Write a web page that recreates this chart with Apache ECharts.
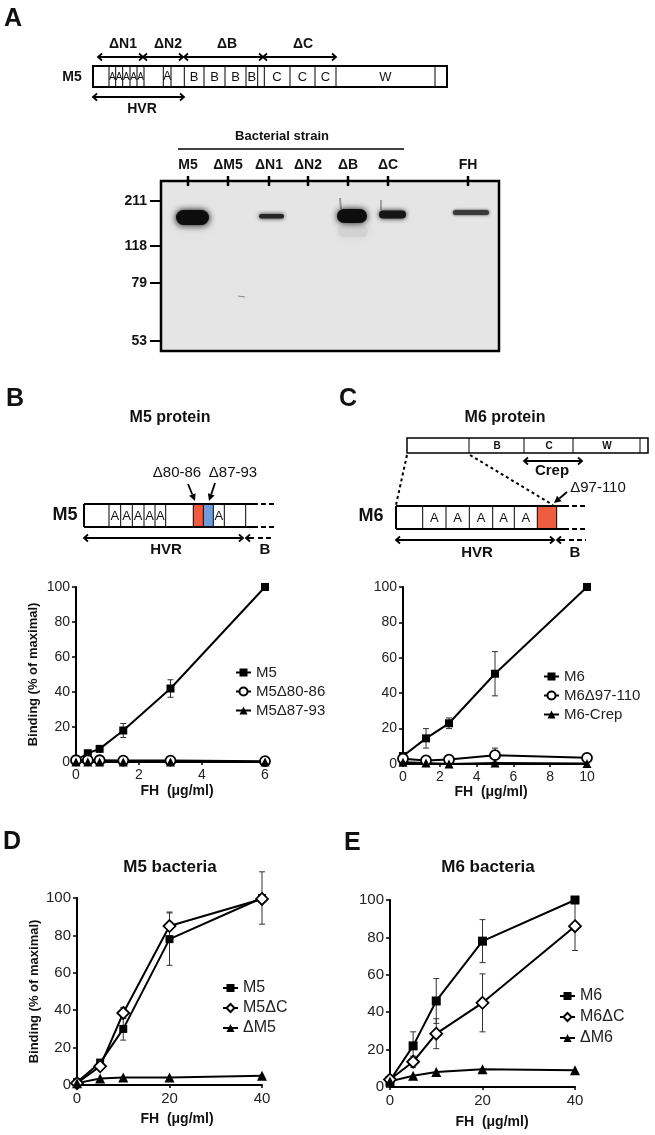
<!DOCTYPE html>
<html>
<head>
<meta charset="utf-8">
<script src="https://cdn.jsdelivr.net/npm/echarts@6/dist/echarts.min.js"></script>
<style>
  html, body { margin: 0; padding: 0; background: #fff; }
  #main { width: 655px; height: 1135px; }
</style>
</head>
<body>
<div id="main"></div>
<script>
// ---- data ----
// B: purified M5 proteins
var bDose = [0, 0.375, 0.75, 1.5, 3, 6];
var bM5 = [1, 5, 7.5, 18, 42, 100];
var bM5Err = [0, 0, 0, 4, 5, 0];
var bM5d8086 = [1, 1, 1, 0.8, 0.8, 0.5];
var bM5d8793 = [0, 0, 0, 0, 0, 0];
// C: purified M6 proteins
var cDose = [0, 1.25, 2.5, 5, 10];
var cM6 = [4.5, 14.5, 23, 51, 100];
var cM6Err = [0, 5.5, 3, 12.5, 0];
var cM6d97 = [3, 2, 2.5, 5, 3.5];
var cM6d97Err = [0, 0, 0, 4, 0];
var cM6Crep = [1, 0.5, 0, 0.5, 0.3];
// D: M5 bacteria
var dDose = [0, 5, 10, 20, 40];
var dM5 = [1.5, 12, 30, 78, 100];
var dM5Err = [0, 1.5, 6, 14, 14];
var dM5dC = [1, 10, 38.5, 85, 99.5];
var dM5dCErr = [0, 0, 3, 7.5, 0];
var dDeltaM5 = [1, 3.5, 4, 4, 5];
// E: M6 bacteria
var eDose = [0, 5, 10, 20, 40];
var eM6 = [3.5, 22, 46, 78, 100];
var eM6Err = [0, 7.5, 12, 11.5, 0];
var eM6dC = [4, 13.5, 28.5, 45, 86];
var eM6dCErr = [0, 3, 8, 15.5, 13];
var eDeltaM6 = [3, 6, 8, 9.5, 9];

// blot lanes and markers
var laneNames = ['M5', '\u0394M5', '\u0394N1', '\u0394N2', '\u0394B', '\u0394C', 'FH'];
var mwLabels = ['211', '118', '79', '53'];

var FF = '"Liberation Sans", Arial, Helvetica, sans-serif';
var G = [];

function L(x1, y1, x2, y2, w, dash, color) {
  G.push({ type: 'line', silent: true, shape: { x1: x1, y1: y1, x2: x2, y2: y2 },
    style: { stroke: color || '#000', lineWidth: w || 1, lineDash: dash || null } });
}
function R(x, y, w, h, fill, lw) {
  G.push({ type: 'rect', silent: true, shape: { x: x, y: y, width: w, height: h },
    style: { fill: fill || 'none', stroke: lw ? '#000' : null, lineWidth: lw || 0 } });
}
function T(x, y, s, size, bold, align) {
  G.push({ type: 'text', silent: true, x: x, y: y,
    style: { text: s, font: (bold ? 'bold ' : '') + size + 'px ' + FF, fill: '#111',
      align: align || 'center', verticalAlign: 'middle' } });
}
function chev(x, y, dir) {
  G.push({ type: 'polyline', silent: true,
    shape: { points: [[x + dir * 4, y - 3.5], [x, y], [x + dir * 4, y + 3.5]] },
    style: { stroke: '#000', lineWidth: 1.8, fill: null } });
}
function dArrow(x1, x2, y) {
  L(x1, y, x2, y, 2);
  chev(x1, y, 1);
  chev(x2, y, -1);
}
function ptr(x1, y1, x2, y2) {
  var dx = x2 - x1, dy = y2 - y1, len = Math.sqrt(dx * dx + dy * dy);
  var ux = dx / len, uy = dy / len, hl = 7, hw = 3.5;
  var bx = x2 - ux * hl, by = y2 - uy * hl;
  L(x1, y1, bx, by, 1.8);
  G.push({ type: 'polygon', silent: true,
    shape: { points: [[x2, y2], [bx - uy * hw, by + ux * hw], [bx + uy * hw, by - ux * hw]] },
    style: { fill: '#000' } });
}
// a soft blot band: rounded pill with blurred edges
function band(x, y, w, h, color, blur) {
  G.push({ type: 'rect', silent: true, shape: { x: x, y: y, width: w, height: h, r: h / 2 },
    style: { fill: color, shadowBlur: blur, shadowColor: color } });
}

// ---- panel A: M5 diagram ----
T(4, 19, 'A', 25, true, 'left');
T(72, 77, 'M5', 14, true);
R(93, 66, 354, 21, '#fff', 2);
[109, 115.7, 122.7, 130, 137, 144, 163.3, 171, 184.3, 204, 225, 246, 257.7, 264.3, 290, 315, 336, 435]
  .forEach(function (x) { L(x, 66, x, 87, 1); });
[112.3, 119.2, 126.3, 133.5, 140.5].forEach(function (x) { T(x, 77, 'A', 10, false); });
T(167.2, 77, 'A', 12, false);
[194, 214.5, 235.5, 251.8].forEach(function (x) { T(x, 77, 'B', 13, false); });
[277, 302.5, 325.5].forEach(function (x) { T(x, 77, 'C', 13, false); });
T(385.5, 77, 'W', 13, false);
dArrow(98, 143, 57); dArrow(143, 183, 57); dArrow(184, 263, 57); dArrow(263, 336, 57);
T(123, 44, '\u0394N1', 14, true); T(168, 44, '\u0394N2', 14, true);
T(227, 44, '\u0394B', 14, true); T(303, 44, '\u0394C', 14, true);
dArrow(93, 184, 97);
T(142, 109, 'HVR', 14, true);

// ---- panel A: blot ----
T(282, 136, 'Bacterial strain', 13, true);
L(178, 149, 404, 149, 1.5);
var laneX = [188, 228, 269, 308, 348, 388, 468];
laneNames.forEach(function (n, i) { T(laneX[i], 165, n, 14, true); });
R(161, 181, 338, 170, '#e5e5e5', 2.5);
laneX.forEach(function (x) { L(x, 176, x, 186, 2.5); });
var mwY = [201, 246, 283, 341];
mwLabels.forEach(function (m, i) { T(147, mwY[i], m, 14, true, 'right'); L(150, mwY[i], 161, mwY[i], 2); });
// halos and smears
band(174, 210, 38, 20, '#d3d3d3', 10);
band(338, 225, 30, 12, '#d2d2d2', 8);
L(340, 198, 341, 209, 2, null, '#9a9a9a');
L(381, 200, 381, 210, 2, null, '#a0a0a0');
// bands
band(176, 210, 33, 15, '#0d0d0d', 6);
band(259, 214, 25, 4.5, '#262626', 4);
band(337, 209, 30, 14, '#0d0d0d', 6);
band(379, 210.5, 27, 8, '#161616', 5);
band(453, 210, 36, 5, '#3a3a3a', 3);
L(238, 296, 245, 297, 1, null, '#888');

// ---- panel B diagram ----
T(6, 399, 'B', 25, true, 'left');
T(170, 418, 'M5 protein', 16, true);
R(193.3, 504, 10, 23, '#ee5b3e', 0);
R(203.3, 504, 10, 23, '#6e9bdc', 0);
L(84, 504, 258, 504, 2); L(84, 527, 258, 527, 2); L(84, 504, 84, 527, 2);
L(261, 504, 274, 504, 2, [5, 3]); L(261, 527, 274, 527, 2, [5, 3]);
[109, 120.7, 132.3, 144, 155, 165.7, 193.3, 203.3, 213.3, 224.3, 245.7]
  .forEach(function (x) { L(x, 504, x, 527, 1); });
[114.8, 126.5, 138.2, 149.5, 160.3, 218.8].forEach(function (x) { T(x, 516, 'A', 13, false); });
T(65, 515, 'M5', 18, true);
T(177, 473, '\u039480-86', 15, false);
T(233, 473, '\u039487-93', 15, false);
ptr(188, 484, 195, 501);
ptr(215, 483, 209, 501);
dArrow(84, 243, 538);
chev(246, 538, 1); L(246, 538, 254, 538, 2); L(258, 538, 274, 538, 2, [5, 3]);
T(166, 550, 'HVR', 15, true);
T(265, 550, 'B', 15, true);

// ---- panel C diagram ----
T(339, 399, 'C', 25, true, 'left');
T(505, 418, 'M6 protein', 16, true);
R(407, 438, 241, 15, '#fff', 1.5);
[469, 524, 573, 640].forEach(function (x) { L(x, 438, x, 453, 1); });
T(497, 446, 'B', 10, true); T(549, 446, 'C', 10, true); T(607, 446, 'W', 10, true);
dArrow(524, 582, 461);
T(552, 471, 'Crep', 15, true);
L(407, 455, 396, 505, 2, [3, 3]);
L(470, 455, 553, 505, 2, [3, 3]);
T(598, 488, '\u039497-110', 15, false);
ptr(567, 492, 554, 503);
R(537.3, 506, 19.4, 23, '#ee5b3e', 0);
L(396, 506, 569, 506, 2); L(396, 529, 569, 529, 2); L(396, 506, 396, 529, 2);
L(572, 506, 586, 506, 2, [5, 3]); L(572, 529, 586, 529, 2, [5, 3]);
[422.7, 446, 469.3, 492.7, 514.3, 537.3, 556.7].forEach(function (x) { L(x, 506, x, 529, 1); });
[434.3, 457.7, 481, 503.5, 525.8].forEach(function (x) { T(x, 518, 'A', 13, false); });
T(371, 516, 'M6', 18, true);
dArrow(396, 554, 540);
chev(557, 540, 1); L(557, 540, 565, 540, 2); L(569, 540, 586, 540, 2, [5, 3]);
T(477, 553, 'HVR', 15, true);
T(575, 553, 'B', 15, true);

// ---- panels D, E headers ----
T(3, 842, 'D', 25, true, 'left');
T(344, 843, 'E', 25, true, 'left');
T(170, 867, 'M5 bacteria', 17, true);
T(488, 867, 'M6 bacteria', 17, true);

// ---- charts ----
function xAx(gi, max, interval, fs, pad, gap) {
  return {
    type: 'value', gridIndex: gi, min: 0, max: max, interval: interval,
    name: 'FH  (\u03bcg/ml)', nameLocation: 'middle', nameGap: gap,
    nameTextStyle: { fontFamily: FF, fontWeight: 'bold', fontSize: 14, color: '#111', padding: pad },
    axisLine: { show: true, onZero: false, lineStyle: { color: '#000', width: 2 } },
    axisTick: { show: true, length: 3, lineStyle: { color: '#000', width: 1.5 } },
    axisLabel: { color: '#222', fontSize: fs, fontFamily: FF, margin: 6 },
    splitLine: { show: false }
  };
}
function yAx(gi, name, fs) {
  return {
    type: 'value', gridIndex: gi, min: 0, max: 100, interval: 20,
    name: name, nameLocation: 'middle', nameGap: 36,
    nameTextStyle: { fontFamily: FF, fontWeight: 'bold', fontSize: 13, color: '#111' },
    axisLine: { show: true, lineStyle: { color: '#000', width: 2 } },
    axisTick: { show: true, length: 4, lineStyle: { color: '#000', width: 1.5 } },
    axisLabel: { color: '#222', fontSize: fs, fontFamily: FF, margin: 6 },
    splitLine: { show: false }
  };
}
function pts(xs, ys) { return xs.map(function (x, i) { return [x, ys[i]]; }); }
function lineS(name, gi, xs, ys, symbol, size, open) {
  return {
    type: 'line', name: name, xAxisIndex: gi, yAxisIndex: gi, data: pts(xs, ys),
    symbol: symbol, symbolSize: size, showAllSymbol: true, clip: false, z: 3,
    lineStyle: { color: '#000', width: 2 },
    itemStyle: { color: open ? '#fff' : '#000', borderColor: '#000', borderWidth: open ? 1.8 : 0 },
    emphasis: { disabled: true }
  };
}
function errS(gi, xs, ys, es) {
  var d = [];
  xs.forEach(function (x, i) { if (es[i] > 0) d.push([x, ys[i] - es[i], ys[i] + es[i]]); });
  return {
    type: 'custom', xAxisIndex: gi, yAxisIndex: gi, data: d, encode: { x: 0, y: [1, 2] },
    silent: true, z: 1,
    renderItem: function (p, api) {
      var x = api.value(0);
      var a = api.coord([x, api.value(1)]), b = api.coord([x, api.value(2)]), c = 3;
      var st = { stroke: '#333', lineWidth: 1 };
      return { type: 'group', children: [
        { type: 'line', shape: { x1: a[0], y1: a[1], x2: b[0], y2: b[1] }, style: st },
        { type: 'line', shape: { x1: a[0] - c, y1: a[1], x2: a[0] + c, y2: a[1] }, style: st },
        { type: 'line', shape: { x1: b[0] - c, y1: b[1], x2: b[0] + c, y2: b[1] }, style: st }
      ] };
    }
  };
}
function leg(names, left, top, fs, gap) {
  return {
    orient: 'vertical', left: left, top: top, itemWidth: 15, itemHeight: 10, itemGap: gap,
    data: names, selectedMode: false,
    textStyle: { fontFamily: FF, fontSize: fs, color: '#222' }
  };
}

var chart = echarts.init(document.getElementById('main'), null, { renderer: 'canvas' });
chart.setOption({
  animation: false,
  backgroundColor: '#fff',
  grid: [
    { left: 76, top: 587, width: 189, height: 175, outerBoundsMode: 'none' },
    { left: 403, top: 587, width: 184, height: 177, outerBoundsMode: 'none' },
    { left: 77, top: 898, width: 185, height: 187, outerBoundsMode: 'none' },
    { left: 390, top: 900, width: 185, height: 187, outerBoundsMode: 'none' }
  ],
  xAxis: [
    xAx(0, 6, 2, 14, [0, 0, 0, 13], 22),
    xAx(1, 10, 2, 14, [0, 8, 0, 0], 21),
    xAx(2, 40, 20, 15, [0, 0, 0, 15], 27),
    xAx(3, 40, 20, 15, [0, 0, 0, 19], 28)
  ],
  yAxis: [
    yAx(0, 'Binding (% of maximal)', 14),
    yAx(1, '', 14),
    yAx(2, 'Binding (% of maximal)', 15),
    yAx(3, '', 15)
  ],
  legend: [
    leg(['M5', 'M5\u039480-86', 'M5\u039487-93'], 230, 660, 15, 4),
    leg(['M6', 'M6\u039497-110', 'M6-Crep'], 538, 664, 15, 4),
    leg(['M5', 'M5\u0394C', '\u0394M5'], 217, 975, 16, 4),
    leg(['M6', 'M6\u0394C', '\u0394M6'], 554, 983, 16, 5)
  ],
  series: [
    errS(0, bDose, bM5, bM5Err),
    lineS('M5', 0, bDose, bM5, 'rect', 8, false),
    lineS('M5\u039480-86', 0, bDose, bM5d8086, 'circle', 10, true),
    lineS('M5\u039487-93', 0, bDose, bM5d8793, 'triangle', 9, false),

    errS(1, cDose, cM6, cM6Err),
    errS(1, cDose, cM6d97, cM6d97Err),
    lineS('M6', 1, cDose, cM6, 'rect', 8, false),
    lineS('M6\u039497-110', 1, cDose, cM6d97, 'circle', 10, true),
    lineS('M6-Crep', 1, cDose, cM6Crep, 'triangle', 9, false),

    errS(2, dDose, dM5, dM5Err),
    errS(2, dDose, dM5dC, dM5dCErr),
    lineS('M5', 2, dDose, dM5, 'rect', 8, false),
    lineS('M5\u0394C', 2, dDose, dM5dC, 'diamond', 12, true),
    lineS('\u0394M5', 2, dDose, dDeltaM5, 'triangle', 10, false),

    errS(3, eDose, eM6, eM6Err),
    errS(3, eDose, eM6dC, eM6dCErr),
    lineS('M6', 3, eDose, eM6, 'rect', 9, false),
    lineS('M6\u0394C', 3, eDose, eM6dC, 'diamond', 12, true),
    lineS('\u0394M6', 3, eDose, eDeltaM6, 'triangle', 10, false)
  ],
  graphic: { elements: G }
});
</script>
</body>
</html>
